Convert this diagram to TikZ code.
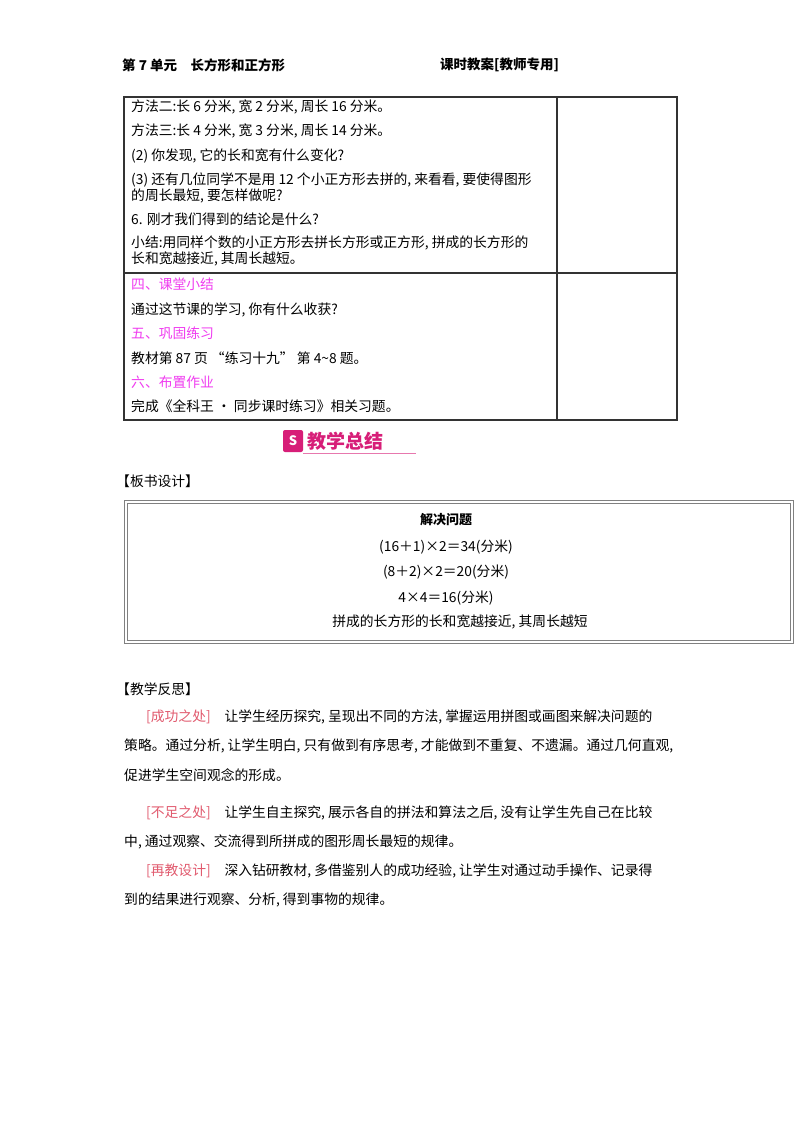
\documentclass[tikz,border=0pt]{standalone}
\usepackage{fontspec}
\setmainfont{Noto Sans CJK SC}
\definecolor{mag}{RGB}{240,60,240}
\definecolor{pinkred}{RGB}{225,90,110}
\definecolor{banner}{RGB}{215,30,120}
\begin{document}
\begin{tikzpicture}[x=1pt,y=-1pt,
  t/.style={anchor=west,inner sep=0pt,font=\fontsize{13.8}{15}\selectfont},
  h/.style={t,text=mag},
  c/.style={inner sep=0pt,font=\fontsize{13.8}{15}\selectfont}]
\useasboundingbox (0,0) rectangle (800,1132);
\fill[white] (0,0) rectangle (800,1132);
\node[t,font=\fontsize{13.5}{15}\selectfont\bfseries] (h1) at (122,65) {第 7 单元\quad 长方形和正方形};
\node[t,font=\fontsize{13.5}{15}\selectfont\bfseries] (h2) at (440,65) {课时教案[教师专用]};
% table
\draw[line width=1.2pt,black!80] (124,97) rectangle (677,420);
\draw[line width=1.2pt,black!80] (557,97) -- (557,420);
\draw[line width=1.2pt,black!80] (124,273) -- (677,273);
\node[t] (a1) at (131,107) {方法二:长 6 分米, 宽 2 分米, 周长 16 分米。};
\node[t] (a2) at (131,131) {方法三:长 4 分米, 宽 3 分米, 周长 14 分米。};
\node[t] (a3) at (131,156) {(2) 你发现, 它的长和宽有什么变化?};
\node[t] (a4) at (131,180) {(3) 还有几位同学不是用 12 个小正方形去拼的, 来看看, 要使得图形};
\node[t] (a5) at (131,196) {的周长最短, 要怎样做呢?};
\node[t] (a6) at (131,219) {6. 刚才我们得到的结论是什么?};
\node[t] (a7) at (131,243) {小结:用同样个数的小正方形去拼长方形或正方形, 拼成的长方形的};
\node[t] (a8) at (131,259) {长和宽越接近, 其周长越短。};
\node[h] (b1) at (131,284) {四、课堂小结};
\node[t] (b2) at (131,310) {通过这节课的学习, 你有什么收获?};
\node[h] (b3) at (131,333) {五、巩固练习};
\node[t] (b4) at (131,358) {教材第 87 页 “练习十九” 第 4\textasciitilde 8 题。};
\node[h] (b5) at (131,382) {六、布置作业};
\node[t] (b6) at (131,406) {完成《全科王 · 同步课时练习》相关习题。};
% banner
\fill[banner,rounded corners=2pt] (283,430) rectangle (303,452);
\node[c,text=white,font=\fontsize{13}{13}\selectfont\bfseries] (ic) at (293,441) {S};
\node[t,text=banner,font=\fontsize{19}{20}\selectfont\bfseries] (bt) at (307,441) {教学总结};
\draw[banner!60,line width=1pt] (303,453) -- (416,453);
\node[t] (bs) at (116,481) {【板书设计】};
% board
\draw[gray,line width=1pt] (124,500) rectangle (793,643);
\draw[gray,line width=0.6pt] (127,503) rectangle (790,640);
\node[c,font=\fontsize{13}{14}\selectfont\bfseries] (c1) at (446,520) {解决问题};
\node[c] (c2) at (446,547) {(16＋1)×2＝34(分米)};
\node[c] (c3) at (446,572) {(8＋2)×2＝20(分米)};
\node[c] (c4) at (446,598) {4×4＝16(分米)};
\node[c] (c5) at (460,622) {拼成的长方形的长和宽越接近, 其周长越短};
\node[t] (fs) at (116,689) {【教学反思】};
\node[t] (p1) at (146,717) {\textcolor{pinkred}{[成功之处]}\quad 让学生经历探究, 呈现出不同的方法, 掌握运用拼图或画图来解决问题的};
\node[t] (p2) at (124,746) {策略。通过分析, 让学生明白, 只有做到有序思考, 才能做到不重复、不遗漏。通过几何直观,};
\node[t] (p3) at (124,775) {促进学生空间观念的形成。};
\node[t] (p4) at (146,813) {\textcolor{pinkred}{[不足之处]}\quad 让学生自主探究, 展示各自的拼法和算法之后, 没有让学生先自己在比较};
\node[t] (p5) at (124,842) {中, 通过观察、交流得到所拼成的图形周长最短的规律。};
\node[t] (p6) at (146,871) {\textcolor{pinkred}{[再教设计]}\quad 深入钻研教材, 多借鉴别人的成功经验, 让学生对通过动手操作、记录得};
\node[t] (p7) at (124,900) {到的结果进行观察、分析, 得到事物的规律。};
\end{tikzpicture}
\end{document}
